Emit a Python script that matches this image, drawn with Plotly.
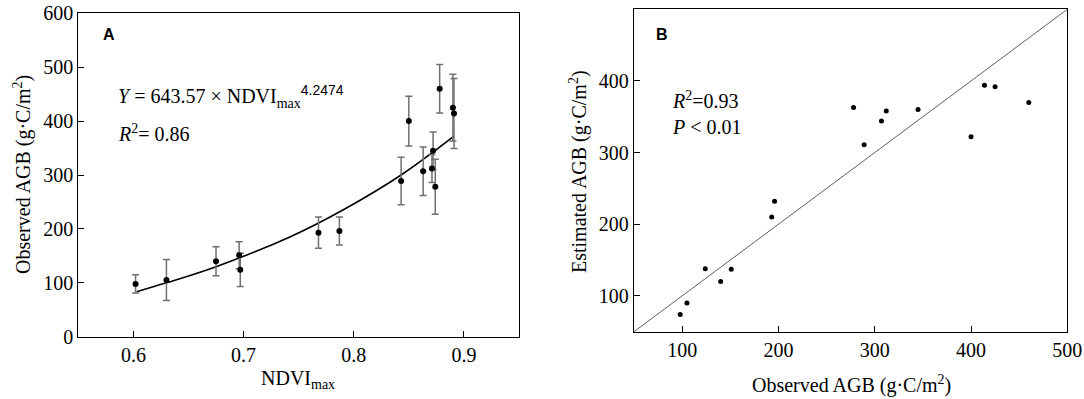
import plotly.graph_objects as go

# ---- data ----
ndvi_max = [0.602, 0.630, 0.675, 0.696, 0.697, 0.768, 0.787, 0.843,
            0.850, 0.863, 0.871, 0.872, 0.874, 0.878, 0.890, 0.891]
observed_agb = [98, 105, 140, 151, 124, 193, 196, 289,
                400, 307, 312, 345, 278, 460, 425, 414]
observed_err = [17, 38, 27, 25, 31, 29, 26, 44,
                46, 45, 26, 35, 51, 45, 62, 65]
estimated_agb = [74, 90, 120, 137, 138, 210, 232, 311,
                 322, 344, 358, 360, 363, 370, 392, 394]

# fitted curve
fit_ndvi = [0.603, 0.630, 0.675, 0.742, 0.791, 0.843, 0.891]
fit_agb = [83.5, 100, 130, 185, 236, 300, 372]

# 1:1 line
one_to_one = [50, 500]

W, H = 1084, 399
SERIF = "Liberation Serif, Times New Roman, serif"
SANS = "Liberation Sans, Arial, sans-serif"

def px_x(p):
    return p / W

def px_y(p):
    return 1 - p / H

fig = go.Figure()

fig.add_trace(go.Scatter(
    x=fit_ndvi, y=fit_agb, mode="lines", line=dict(color="black", width=1.6, shape="spline"),
    xaxis="x", yaxis="y", showlegend=False, hoverinfo="skip"))

fig.add_trace(go.Scatter(
    x=ndvi_max, y=observed_agb, mode="markers",
    marker=dict(color="black", size=6),
    error_y=dict(type="data", array=observed_err, color="#707070", thickness=1.5, width=3.5),
    xaxis="x", yaxis="y", showlegend=False))

fig.add_trace(go.Scatter(
    x=one_to_one, y=one_to_one, mode="lines", line=dict(color="#606060", width=1),
    xaxis="x2", yaxis="y2", showlegend=False, hoverinfo="skip"))

fig.add_trace(go.Scatter(
    x=observed_agb, y=estimated_agb, mode="markers",
    marker=dict(color="black", size=5),
    xaxis="x2", yaxis="y2", showlegend=False))

axis_common = dict(showgrid=False, zeroline=False, showline=True, linecolor="black",
                   linewidth=1.3, mirror=True, ticks="inside", ticklen=6, tickwidth=1.2,
                   tickcolor="black", tickfont=dict(family=SERIF, size=20, color="black"))

fig.update_layout(
    width=W, height=H,
    margin=dict(l=0, r=0, t=0, b=0, autoexpand=False),
    paper_bgcolor="white", plot_bgcolor="white",
    xaxis=dict(domain=[px_x(78.3), px_x(519)], range=[0.55, 0.95],
               tickvals=[0.6, 0.7, 0.8, 0.9], ticktext=["0.6", "0.7", "0.8", "0.9"],
               anchor="y", **axis_common),
    yaxis=dict(domain=[px_y(336.7), px_y(13.3)], range=[0, 600],
               tickvals=[0, 100, 200, 300, 400, 500, 600], anchor="x", **axis_common),
    xaxis2=dict(domain=[px_x(634), px_x(1067.3)], range=[50, 500],
                tickvals=[100, 200, 300, 400, 500], anchor="y2", **axis_common),
    yaxis2=dict(domain=[px_y(331.7), px_y(9.3)], range=[50, 500],
                tickvals=[100, 200, 300, 400, 500], anchor="x2", **axis_common),
)

def ann(text, x, y, size=18, family=SERIF, xanchor="left", yanchor="middle", angle=0):
    fig.add_annotation(text=text, x=px_x(x), y=px_y(y), xref="paper", yref="paper",
                       showarrow=False, xanchor=xanchor, yanchor=yanchor, textangle=angle,
                       borderpad=0, font=dict(family=family, size=size, color="black"))

# panel labels
ann("<b>A</b>", 102, 34, size=16, family=SANS)
ann("<b>B</b>", 655, 34, size=16, family=SANS)

# equation panel A
ann("<i>Y</i> = 643.57 × NDVI<sub>max</sub><sup><span style='font-family:Liberation Sans, Arial'>4.2474</span></sup>",
    117, 96, size=20)
ann("<i>R</i><sup>2</sup>= 0.86", 117, 133, size=20)

# panel B stats
ann("<i>R</i><sup>2</sup>=0.93", 671, 100, size=20)
ann("<i>P</i> &lt; 0.01", 671, 127, size=20)

# axis titles
ann("Observed AGB (g·C/m<sup>2</sup>)", 22, 175, size=20, xanchor="center", angle=-90)
ann("NDVI<sub>max</sub>", 298, 379, size=20, xanchor="center")
ann("Observed AGB (g·C/m<sup>2</sup>)", 851, 384, size=20, xanchor="center")
ann("Estimated AGB (g·C/m<sup>2</sup>)", 578, 172, size=20, xanchor="center", angle=-90)

fig.write_html("out.html", config={"displayModeBar": False})

# remove the default page margin so the figure sits at the window origin
with open("out.html", "r", encoding="utf-8") as f:
    html = f.read()
html = html.replace("<head>", "<head><style>html,body{margin:0;padding:0;overflow:hidden;}</style>", 1)
with open("out.html", "w", encoding="utf-8") as f:
    f.write(html)
